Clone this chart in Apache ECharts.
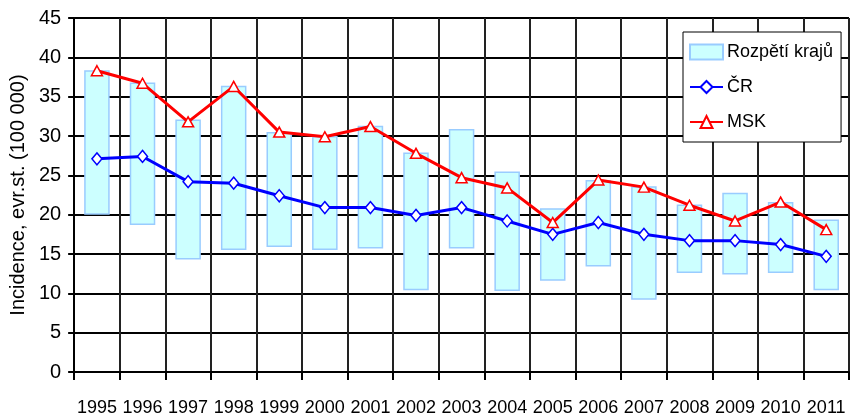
<!DOCTYPE html>
<html>
<head>
<meta charset="utf-8">
<script src="https://cdn.jsdelivr.net/npm/echarts@6/dist/echarts.min.js"></script>
<style>
html,body{margin:0;padding:0;background:#fff;}
#chart{width:850px;height:417px;}
</style>
</head>
<body>
<div id="chart"></div>
<script>
const years = ['1995','1996','1997','1998','1999','2000','2001','2002','2003','2004','2005','2006','2007','2008','2009','2010','2011'];
const rangeLow  = [20.0, 18.7, 14.3, 15.5, 15.9, 15.5, 15.7, 10.4, 15.7, 10.3, 11.6, 13.4, 9.2, 12.6, 12.4, 12.6, 10.4];
const rangeHigh = [38.35, 36.8, 32.1, 36.4, 30.5, 30.0, 31.3, 27.9, 30.9, 25.5, 20.8, 24.4, 23.6, 21.3, 22.8, 21.6, 19.4];
const cr  = [27.1, 27.4, 24.2, 24.0, 22.4, 20.9, 20.9, 19.9, 20.9, 19.2, 17.5, 19.0, 17.5, 16.7, 16.7, 16.2, 14.7];
const msk = [38.3, 36.7, 31.8, 36.3, 30.5, 29.9, 31.2, 27.8, 24.7, 23.4, 19.0, 24.4, 23.5, 21.2, 19.2, 21.6, 18.1];
const yTicks = ['0','5','10','15','20','25','30','35','40','45'];

const rangeSpan = rangeHigh.map((h, i) => +(h - rangeLow[i]).toFixed(2));
const FONT = '"Liberation Sans", Arial, sans-serif';

const chart = echarts.init(document.getElementById('chart'), null, {renderer: 'canvas'});
chart.setOption({
  animation: false,
  backgroundColor: '#fff',
  textStyle: {fontFamily: FONT, color: '#000'},
  grid: {left: 73, right: 1, top: 18, bottom: 45, containLabel: false},
  legend: {
    orient: 'vertical',
    left: 683, top: 32,
    width: 158,
    backgroundColor: '#fff',
    borderColor: '#000', borderWidth: 1,
    padding: [11, 8, 11, 6],
    itemGap: 17,
    itemWidth: 33, itemHeight: 15,
    textStyle: {fontFamily: FONT, fontSize: 18, color: '#000', padding: [0, 0, 0, -1]},
    data: [{name: 'Rozpětí krajů', icon: 'rect'}, 'ČR', 'MSK']
  },
  xAxis: {
    type: 'category',
    data: years,
    boundaryGap: true,
    axisLine: {show: true, lineStyle: {color: '#000', width: 2}},
    axisTick: {show: true, length: 8, lineStyle: {color: '#000', width: 2}},
    axisLabel: {color: '#000', fontSize: 18, fontFamily: FONT, margin: 27, interval: 0},
    splitLine: {show: true, lineStyle: {color: '#222', width: 2}}
  },
  yAxis: {
    type: 'value',
    min: 0, max: 45, interval: 5,
    name: 'Incidence, evr.st. (100 000)',
    nameLocation: 'middle',
    nameGap: 46,
    nameRotate: 90,
    nameTextStyle: {fontFamily: FONT, fontSize: 20, color: '#000'},
    axisLine: {show: true, lineStyle: {color: '#000', width: 2}},
    axisTick: {show: true, length: 6, lineStyle: {color: '#000', width: 2}},
    axisLabel: {color: '#000', fontSize: 20, fontFamily: FONT, margin: 13,
      formatter: v => yTicks[Math.round(v / 5)]},
    splitLine: {show: true, lineStyle: {color: '#000', width: 2}}
  },
  series: [
    {
      name: 'base', type: 'bar', stack: 'range', data: rangeLow,
      barWidth: '56%', silent: true,
      itemStyle: {color: 'transparent'}
    },
    {
      name: 'Rozpětí krajů', type: 'bar', stack: 'range', data: rangeSpan,
      barWidth: '56%',
      itemStyle: {color: '#ccffff', borderColor: '#99ccff', borderWidth: 1.5}
    },
    {
      name: 'ČR', type: 'line', data: cr,
      symbol: 'diamond', symbolSize: [10, 12], z: 5,
      lineStyle: {color: '#0000ff', width: 3},
      itemStyle: {color: '#fff', borderColor: '#0000ff', borderWidth: 1.5}
    },
    {
      name: 'MSK', type: 'line', data: msk,
      symbol: 'triangle', symbolSize: [11, 10], z: 6,
      lineStyle: {color: '#ff0000', width: 3},
      itemStyle: {color: '#fff', borderColor: '#ff0000', borderWidth: 1.5}
    }
  ]
});
</script>
</body>
</html>
